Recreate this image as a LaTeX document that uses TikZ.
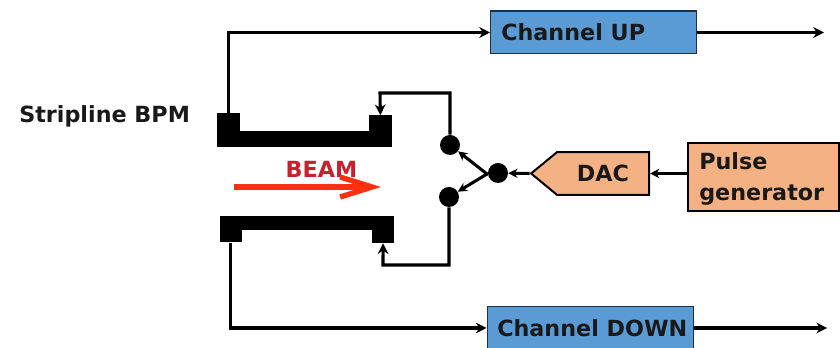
\documentclass[tikz,border=0pt]{standalone}
\usepackage{fontspec}
\setmainfont{DejaVu Sans}
\usetikzlibrary{arrows.meta,positioning,shapes.symbols}
\definecolor{chanblue}{HTML}{5B9BD5}
\definecolor{dacorange}{HTML}{F4B183}
\definecolor{beamred}{HTML}{C8202F}
\definecolor{beamarrow}{HTML}{FF3010}
\definecolor{boxedge}{HTML}{1F3044}
\tikzset{
  lbl/.style={font=\fontsize{16.7}{18}\selectfont\bfseries, text=black!90},
  chan/.style={draw=boxedge, line width=1pt, fill=chanblue, minimum width=154.5pt, minimum height=32pt, inner sep=0pt},
  wire/.style={line width=2.3pt, -{Stealth[length=8pt,width=8pt]}},
  plain/.style={line width=2.3pt},
  metal/.style={fill=black, inner sep=0pt},
  junction/.style={circle, fill=black, minimum size=15pt, inner sep=0pt},
}

\begin{document}
\begin{tikzpicture}[x=0.75pt,y=-0.75pt]
  \useasboundingbox (0,0) rectangle (840,348);

  % read-out channels
  \node [chan, anchor=west] (up) at (490,32.5) {};
  \node [lbl, anchor=west, inner sep=0pt] (uplbl) at (501,32) {Channel UP};
  \node [chan, anchor=west] (down) at (486.5,328) {};
  \node [lbl, anchor=west, inner sep=0pt] (downlbl) at (497,328) {Channel DOWN};
  \coordinate [right=95pt of up.east] (upend);
  \coordinate [right=100pt of down.east] (downend);

  % striplines
  \node [metal, anchor=north west, minimum width=131pt, minimum height=12.5pt] (plateU) at (217,130.5) {};
  \node [metal, anchor=south west, minimum width=17pt, minimum height=25pt] (padUL) at (217,147) {};
  \node [metal, anchor=south east, minimum width=17pt, minimum height=23.5pt] (padUR) at (392,147) {};
  \node [metal, anchor=north west, minimum width=130.5pt, minimum height=11pt] (plateD) at (220,215.5) {};
  \node [metal, anchor=north west, minimum width=16pt, minimum height=20pt] (padDL) at (220,215.5) {};
  \node [metal, anchor=north east, minimum width=16pt, minimum height=20.5pt] (padDR) at (394,215.5) {};

  \node [lbl, anchor=west, inner sep=0pt] (bpm) at (19,116) {Stripline BPM};

  % beam
  \node [lbl, text=beamred, inner sep=0pt] (beam) at (321.5,169) {BEAM};
  \coordinate (beamL) at (234,187);
  \coordinate (beamR) at (381,187);
  \draw [line width=4.5pt, beamarrow, -{Straight Barb[length=24pt,width=15pt,line width=4pt]}] (beamL) -- (beamR);

  % switch and pulser
  \node [junction] (swU) at (450,145) {};
  \node [junction] (swD) at (449,197) {};
  \node [junction] (swC) at (498,173) {};
  \node [signal, signal to=west, signal pointer angle=79, draw=black, line width=1.5pt, fill=dacorange, lbl,
         minimum height=32pt, inner xsep=15pt, inner ysep=0pt] (dac) at (603,173.5) {DAC};
  \node [draw=black, line width=1.5pt, fill=dacorange, anchor=north west, minimum width=113pt, minimum height=51pt] (pulse) at (687,142) {};
  \node [lbl, align=left, anchor=west, inner sep=0pt, font=\fontsize{16.7}{23.25}\selectfont\bfseries] (pulselbl) at (699,178.5) {Pulse\\generator};

  \coordinate (fbU) at (380,93);
  \coordinate (fbD) at (383,265);
  \coordinate (fork) at (487,174);

  \draw [wire] (padUL.north) |- (up.west);
  \draw [wire] (padDL.south) |- (down.west);
  \draw [wire] (up.east) -- (upend);
  \draw [wire] (down.east) -- (downend);
  \draw [wire] (swU.north) |- (fbU) -- (padUR.north);
  \draw [wire] (swD.south) |- (fbD) -- (padDR.south);
  \draw [wire, -{Stealth[length=7pt,width=7pt]}] (fork) -- (swU);
  \draw [wire, -{Stealth[length=7pt,width=7pt]}] (fork) -- (swD);
  \draw [plain] (fork) -- (swC);
  \draw [wire, -{Stealth[length=7pt,width=7pt]}] (dac.west) -- (swC);
  \draw [wire, -{Stealth[length=7pt,width=7pt]}] (pulse.west |- dac.east) -- (dac.east);
\end{tikzpicture}
\end{document}
